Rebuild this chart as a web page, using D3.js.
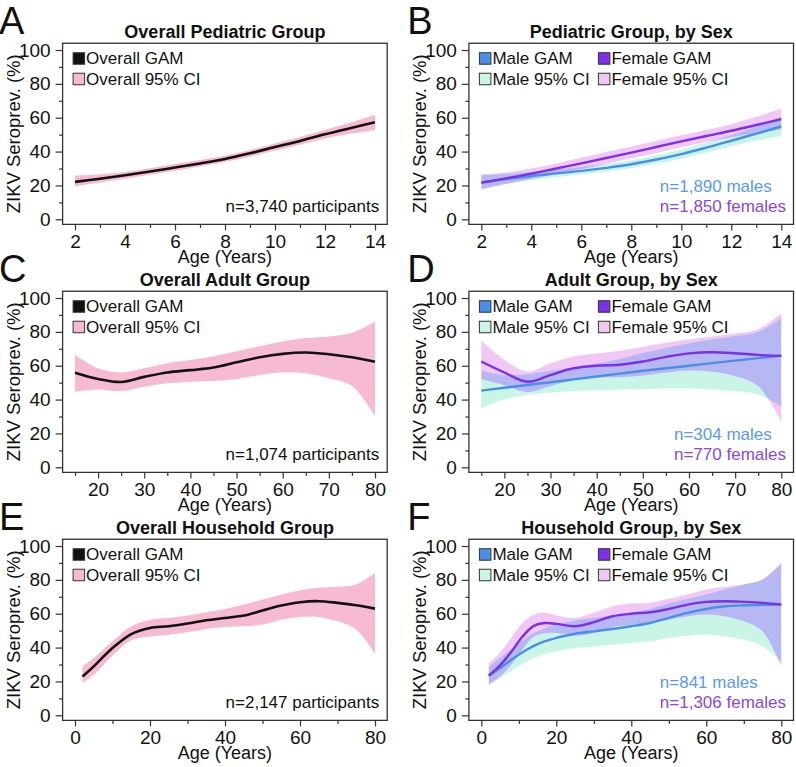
<!DOCTYPE html>
<html><head><meta charset="utf-8">
<script src="https://cdn.jsdelivr.net/npm/d3@7"></script>
<style>
body{margin:0;background:#fff}
svg text{font-family:"Liberation Sans",Arial,Helvetica,sans-serif;fill:#111}
</style></head>
<body><svg id="chart" width="796" height="767"></svg>
<script>
// ---------------- DATA ----------------
// Tick labels
const yTicks = [0, 20, 40, 60, 80, 100];
const yMinorTicks = [10, 30, 50, 70, 90];
const pedTicks = [2, 4, 6, 8, 10, 12, 14];
const pedMinorTicks = [3, 5, 7, 9, 11, 13];
const adultTicks = [20, 30, 40, 50, 60, 70, 80];
const adultMinorTicks = [15, 25, 35, 45, 55, 65, 75];
const hhTicks = [0, 20, 40, 60, 80];
const hhMinorTicks = [10, 30, 50, 70];

// Panel A: overall pediatric
const pedAges = [2, 3, 4, 5, 6, 7, 8, 9, 10, 11, 12, 13, 14];
const pedOverall = [22.1, 24.0, 26.0, 28.2, 30.6, 33.0, 35.6, 39.0, 42.7, 46.3, 50.2, 53.8, 57.3];
const pedOverallLo = [19.5, 21.8, 24.0, 26.3, 28.7, 31.2, 33.8, 37.0, 40.6, 44.1, 47.7, 50.5, 52.8];
const pedOverallHi = [25.8, 26.6, 28.0, 30.2, 32.6, 35.0, 37.6, 41.0, 44.8, 48.6, 52.8, 57.0, 61.8];
// Panel B: pediatric by sex
const pedMale = [21.7, 23.7, 25.6, 27.1, 28.6, 30.4, 32.5, 35.3, 38.5, 42.3, 46.4, 50.6, 54.8];
const pedMaleLo = [18.0, 21.0, 23.2, 24.9, 26.4, 28.2, 30.2, 32.8, 35.8, 39.4, 43.2, 46.5, 49.0];
const pedMaleHi = [26.0, 26.7, 28.0, 29.4, 30.9, 32.7, 34.9, 37.9, 41.3, 45.3, 49.7, 54.7, 60.5];
const pedFemale = [21.7, 24.2, 27.0, 30.0, 33.0, 36.2, 39.4, 42.7, 46.0, 49.2, 52.3, 55.7, 59.2];
const pedFemaleLo = [17.5, 20.8, 23.9, 26.8, 29.7, 32.8, 36.0, 39.2, 42.5, 45.6, 48.5, 51.0, 53.2];
const pedFemaleHi = [26.5, 27.7, 30.0, 33.0, 36.3, 39.7, 43.0, 46.3, 49.6, 52.8, 56.2, 60.5, 65.5];

// Panel C: overall adult
const adultAges = [15, 20, 25, 30, 35, 40, 45, 50, 55, 60, 65, 70, 75, 80];
const adultOverall = [55.9, 52.2, 50.4, 53.4, 56.0, 57.4, 58.9, 62.0, 65.0, 67.0, 67.8, 66.8, 65.0, 62.3];
const adultOverallLo = [44.7, 46.0, 45.0, 47.6, 49.6, 50.6, 51.0, 52.2, 54.5, 56.1, 55.5, 52.6, 48.0, 30.2];
const adultOverallHi = [66.4, 58.5, 56.0, 58.5, 61.5, 63.4, 65.6, 68.6, 71.5, 74.3, 76.3, 77.3, 79.5, 86.0];
// Panel D: adult by sex
const adultMale = [45.3, 47.0, 48.6, 50.2, 51.9, 53.6, 55.3, 57.0, 58.5, 60.0, 61.5, 63.0, 64.5, 66.0];
const adultMaleLo = [34.5, 40.3, 42.7, 44.0, 45.0, 45.5, 46.0, 46.3, 46.5, 46.5, 46.0, 45.0, 43.0, 36.0];
const adultMaleHi = [57.0, 54.5, 55.0, 57.0, 59.0, 61.3, 64.0, 67.5, 70.5, 73.2, 75.5, 77.5, 80.0, 88.0];
const adultFemale = [62.5, 56.0, 50.5, 54.5, 58.5, 60.0, 60.6, 62.5, 65.2, 67.3, 68.0, 67.4, 66.4, 65.8];
const adultFemaleLo = [52.0, 48.5, 44.5, 48.0, 51.5, 53.0, 53.2, 54.2, 56.0, 57.2, 56.5, 54.0, 48.0, 27.0];
const adultFemaleHi = [74.7, 63.5, 56.5, 61.5, 65.5, 67.2, 68.8, 71.0, 73.5, 75.5, 77.3, 79.0, 81.5, 91.0];

// Panel E: overall household
const hhAges = [2, 5, 10, 15, 20, 25, 30, 35, 40, 45, 50, 55, 60, 65, 70, 75, 80];
const hhOverall = [22.9, 28.9, 39.7, 48.0, 51.6, 52.6, 54.2, 56.1, 57.5, 58.9, 61.9, 64.8, 66.8, 67.4, 66.4, 65.0, 63.0];
const hhOverallLo = [19.0, 23.9, 35.2, 44.3, 46.6, 47.6, 49.0, 51.0, 52.2, 52.6, 53.6, 56.5, 58.1, 58.1, 55.5, 50.6, 36.4];
const hhOverallHi = [28.9, 33.8, 43.7, 52.6, 56.5, 57.5, 58.9, 60.9, 62.8, 65.4, 68.4, 71.3, 73.9, 75.3, 75.9, 77.3, 84.2];
// Panel F: household by sex
const hhSexAges = [2, 5, 8, 11, 14, 17, 20, 25, 30, 35, 40, 45, 50, 55, 60, 65, 70, 75, 80];
const hhMale = [23.3, 27.9, 32.8, 37.2, 41.0, 43.8, 45.7, 48.2, 49.6, 51.0, 52.6, 54.5, 57.5, 60.5, 62.8, 64.4, 65.0, 65.2, 65.4];
const hhMaleLo = [18.0, 21.9, 26.3, 30.3, 33.8, 36.3, 37.7, 39.7, 40.7, 41.7, 42.7, 43.7, 45.7, 47.0, 47.6, 46.6, 44.7, 40.7, 31.8];
const hhMaleHi = [28.9, 33.8, 39.0, 44.3, 48.5, 51.3, 53.6, 56.1, 57.5, 58.9, 60.5, 62.8, 66.0, 68.8, 71.3, 74.3, 77.3, 80.2, 89.1];
const hhFemale = [23.5, 29.5, 37.5, 46.5, 52.8, 54.5, 54.0, 52.6, 55.0, 58.5, 60.0, 60.9, 62.8, 65.4, 67.0, 67.4, 67.0, 66.4, 65.4];
const hhFemaleLo = [18.0, 23.0, 30.0, 39.0, 46.5, 48.5, 48.6, 47.0, 48.6, 52.2, 53.6, 54.5, 56.5, 58.5, 59.5, 58.5, 55.5, 49.6, 28.9];
const hhFemaleHi = [30.8, 37.0, 46.0, 54.5, 59.5, 60.5, 59.0, 57.5, 60.5, 64.4, 66.0, 66.4, 68.8, 71.3, 74.3, 75.9, 77.3, 80.2, 90.5];

// Texts
const titles = ["Overall Pediatric Group", "Pediatric Group, by Sex", "Overall Adult Group",
                "Adult Group, by Sex", "Overall Household Group", "Household Group, by Sex"];
const letters = ["A", "B", "C", "D", "E", "F"];
const overallNotes = ["n=3,740 participants", "n=1,074 participants", "n=2,147 participants"];
const maleNotes = ["n=1,890 males", "n=304 males", "n=841 males"];
const femaleNotes = ["n=1,850 females", "n=770 females", "n=1,306 females"];

// ---------------- STYLE ----------------
const C = {
  black: "#111111", pink: "#f7bad3",
  male: "#4a8fe7", female: "#7b2fe6",
  maleCI: "#c8f5e6", femaleCI: "#f1c7f4", overlap: "#b7b8f3",
  maleText: "#5b9be8", femaleText: "#8b46e8", box: "#333"
};
const COLX = [0, 406.3];
const ROWY = [0, 248, 496];

const svg = d3.select("#chart");

function drawPanel(idx, col, row, xDomain, xMajor, xMinor, ages, series) {
  const g = svg.append("g").attr("transform", `translate(${COLX[col]},${ROWY[row]})`);
  const x = d3.scaleLinear(xDomain, [75, 375]);
  const y = d3.scaleLinear([0, 100], [219.3, 50]);
  const bx0 = x.invert(62.6), bx1 = x.invert(387.2);
  const boxL = x(bx0), boxR = x(bx1), boxT = y(104), boxB = y(-3);
  const curve = d3.curveCatmullRom.alpha(0.5);
  const area = (lo, hi) => d3.area().x((d, i) => x(ages[i])).y0((d, i) => y(lo[i])).y1((d, i) => y(hi[i])).curve(curve)(ages);
  const line = (v) => d3.line().x((d, i) => x(ages[i])).y((d, i) => y(v[i])).curve(curve)(ages);

  if (series.overall) {
    g.append("path").attr("d", area(series.lo, series.hi)).attr("fill", C.pink);
    g.append("path").attr("d", line(series.overall)).attr("fill", "none").attr("stroke", C.black).attr("stroke-width", 2.6);
  } else {
    const clipId = "clipm" + idx;
    g.append("clipPath").attr("id", clipId).append("path").attr("d", area(series.mLo, series.mHi));
    g.append("path").attr("d", area(series.mLo, series.mHi)).attr("fill", C.maleCI);
    g.append("path").attr("d", area(series.fLo, series.fHi)).attr("fill", C.femaleCI);
    g.append("path").attr("d", area(series.fLo, series.fHi)).attr("fill", C.overlap).attr("clip-path", `url(#${clipId})`);
    g.append("path").attr("d", line(series.m)).attr("fill", "none").attr("stroke", C.male).attr("stroke-width", 2.4);
    g.append("path").attr("d", line(series.f)).attr("fill", "none").attr("stroke", C.female).attr("stroke-width", 2.4);
  }

  // box
  g.append("rect").attr("x", boxL).attr("y", boxT).attr("width", boxR - boxL).attr("height", boxB - boxT)
    .attr("fill", "none").attr("stroke", C.box).attr("stroke-width", 1.3);

  // axes
  const fmt = d3.format("d");
  const xa = g.append("g").attr("transform", `translate(0,${boxB})`)
    .call(d3.axisBottom(x).tickValues(xMajor).tickSize(6).tickPadding(4).tickFormat(fmt));
  const xm = g.append("g").attr("transform", `translate(0,${boxB})`)
    .call(d3.axisBottom(x).tickValues(xMinor).tickSize(3.5).tickFormat(""));
  const ya = g.append("g").attr("transform", `translate(${boxL},0)`)
    .call(d3.axisLeft(y).tickValues(yTicks).tickSize(7).tickPadding(5).tickFormat(fmt));
  const ym = g.append("g").attr("transform", `translate(${boxL},0)`)
    .call(d3.axisLeft(y).tickValues(yMinorTicks).tickSize(3.5).tickFormat(""));
  [xa, xm, ya, ym].forEach(a => {
    a.select(".domain").remove();
    a.selectAll("line").attr("stroke", C.box).attr("stroke-width", 1.2);
    a.selectAll("text").attr("font-size", 19).attr("fill", "#111").attr("font-family", null);
  });

  // titles
  g.append("text").attr("x", (boxL + boxR) / 2).attr("y", 37.5).attr("text-anchor", "middle")
    .attr("font-size", 18).attr("font-weight", "bold").text(titles[idx]);
  g.append("text").attr("x", (boxL + boxR) / 2).attr("y", 263).attr("text-anchor", "middle")
    .attr("font-size", 18).text("Age (Years)");
  g.append("text").attr("transform", `translate(${19.5},${(boxT + boxB) / 2}) rotate(-90)`)
    .attr("text-anchor", "middle").attr("font-size", 18.5).text("ZIKV Seroprev. (%)");
  g.append("text").attr("x", col === 0 ? -1 : 1).attr("y", 34).attr("font-size", 38).text(letters[idx]);

  // legend
  const sw = 11.5, lx = boxL + 10.5, ly = boxT + 9.5, rowGap = 20.5;
  const items = series.overall
    ? [[0, 0, C.black, "Overall GAM"], [0, 1, C.pink, "Overall 95% CI"]]
    : [[0, 0, C.male, "Male GAM"], [1, 0, C.female, "Female GAM"], [0, 1, C.maleCI, "Male 95% CI"], [1, 1, C.femaleCI, "Female 95% CI"]];
  items.forEach(([c, r, color, label]) => {
    const sx = lx + c * 119, sy = ly + r * rowGap;
    g.append("rect").attr("x", sx).attr("y", sy).attr("width", sw).attr("height", sw)
      .attr("fill", color).attr("stroke", "#333").attr("stroke-width", 1);
    g.append("text").attr("x", sx + 13).attr("y", sy + 11.5).attr("font-size", 17).text(label);
  });

  // annotations
  if (series.overall) {
    g.append("text").attr("x", boxR - 8).attr("y", boxB - 12.5).attr("text-anchor", "end")
      .attr("font-size", 17).text(overallNotes[row]);
  } else {
    const ft = g.append("text").attr("x", boxR - 7.5).attr("y", boxB - 12.5).attr("text-anchor", "end")
      .attr("font-size", 17).style("fill", C.femaleText).text(femaleNotes[row]);
    const left = boxR - 7.5 - ft.node().getComputedTextLength();
    g.append("text").attr("x", left).attr("y", boxB - 32.5).attr("font-size", 17)
      .style("fill", C.maleText).text(maleNotes[row]);
  }
}

drawPanel(0, 0, 0, [2, 14], pedTicks, pedMinorTicks, pedAges,
  { overall: pedOverall, lo: pedOverallLo, hi: pedOverallHi });
drawPanel(1, 1, 0, [2, 14], pedTicks, pedMinorTicks, pedAges,
  { m: pedMale, mLo: pedMaleLo, mHi: pedMaleHi, f: pedFemale, fLo: pedFemaleLo, fHi: pedFemaleHi });
drawPanel(2, 0, 1, [15, 80], adultTicks, adultMinorTicks, adultAges,
  { overall: adultOverall, lo: adultOverallLo, hi: adultOverallHi });
drawPanel(3, 1, 1, [15, 80], adultTicks, adultMinorTicks, adultAges,
  { m: adultMale, mLo: adultMaleLo, mHi: adultMaleHi, f: adultFemale, fLo: adultFemaleLo, fHi: adultFemaleHi });
drawPanel(4, 0, 2, [0, 80], hhTicks, hhMinorTicks, hhAges,
  { overall: hhOverall, lo: hhOverallLo, hi: hhOverallHi });
drawPanel(5, 1, 2, [0, 80], hhTicks, hhMinorTicks, hhSexAges,
  { m: hhMale, mLo: hhMaleLo, mHi: hhMaleHi, f: hhFemale, fLo: hhFemaleLo, fHi: hhFemaleHi });
</script>
</body></html>
